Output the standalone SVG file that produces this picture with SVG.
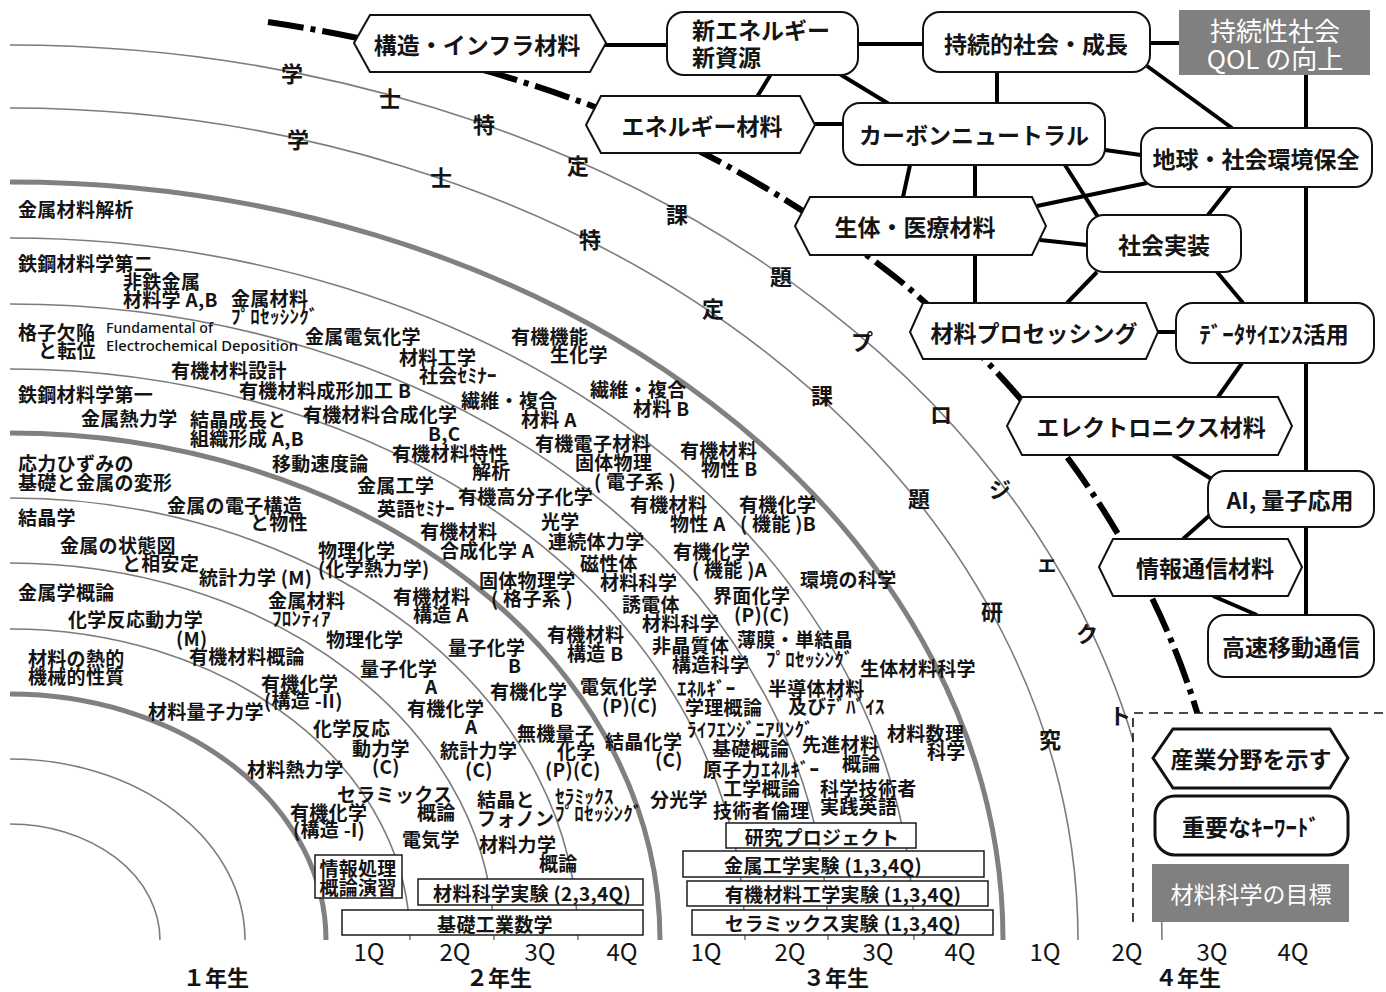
<svg xmlns="http://www.w3.org/2000/svg" width="1386" height="992" viewBox="0 0 1386 992">
<style>
text{font-family:"Noto Sans CJK JP","Noto Sans CJK SC","Noto Sans",sans-serif;font-weight:bold;fill:#141414;dominant-baseline:central}
tspan{dominant-baseline:central}
.c{font-size:19px;letter-spacing:0.3px}
.lat{font-family:"Noto Sans","Liberation Sans",sans-serif;font-size:14.5px;font-weight:500;fill:#111}
.n{font-size:23px;text-anchor:middle}
.nl{font-size:23px}
.w{fill:#fff;font-weight:normal}
.ch{font-size:22px;text-anchor:middle}
.q{font-size:24px;text-anchor:middle;font-weight:normal}
.y{font-size:22px;text-anchor:middle}
.bt{font-size:19px;text-anchor:middle;letter-spacing:0.3px}
.at{fill:none;stroke:#7c7c7c;stroke-width:1.6}
.ak{fill:none;stroke:#808080;stroke-width:5}
.dd{fill:none;stroke:#000;stroke-width:6;stroke-dasharray:36 7 5 7}
.ln{stroke:#000;stroke-width:4;fill:none}
.hx{fill:#fff;stroke:#111;stroke-width:2}
.rr{fill:#fff;stroke:#111;stroke-width:2}
.g{fill:#808080}
.bx{fill:#fff;stroke:#1a1a1a;stroke-width:1.5}
</style>
<rect width="1386" height="992" fill="#fff"/>

<g id="arcs">
<path class="at" d="M10,824 A150,116 0 0 1 160,940"/>
<path class="at" d="M10,759 A235,181 0 0 1 245,940"/>
<path class="ak" d="M10,694 A316,246 0 0 1 326,940"/>
<path class="at" d="M10,629 A400,311 0 0 1 410,940"/>
<path class="at" d="M10,563 A484,377 0 0 1 494,940"/>
<path class="at" d="M10,498 A568,442 0 0 1 578,940"/>
<path class="ak" d="M10,433 A650,507 0 0 1 660,940"/>
<path class="at" d="M10,369 A735,571 0 0 1 745,940"/>
<path class="at" d="M10,304 A818,636 0 0 1 828,940"/>
<path class="at" d="M10,238 A904,702 0 0 1 914,940"/>
<path class="ak" d="M10,182 A993,758 0 0 1 1003,940"/>
<path class="at" d="M10,108 A1068,832 0 0 1 1078,940"/>
<path class="at" d="M10,45 A1152,895 0 0 1 1162,940"/>
</g>

<g id="arc-labels">
<text class="ch" x="292" y="72">学</text>
<text class="ch" x="390" y="97">士</text>
<text class="ch" x="484" y="123">特</text>
<text class="ch" x="578" y="164">定</text>
<text class="ch" x="677" y="213">課</text>
<text class="ch" x="781" y="275">題</text>
<text class="ch" x="862" y="340">プ</text>
<text class="ch" x="941" y="413">ロ</text>
<text class="ch" x="1000" y="488">ジ</text>
<text class="ch" x="1047" y="561">ェ</text>
<text class="ch" x="1087" y="632">ク</text>
<text class="ch" x="1120" y="714">ト</text>
<text class="ch" x="298" y="138">学</text>
<text class="ch" x="441" y="176">士</text>
<text class="ch" x="590" y="238">特</text>
<text class="ch" x="713" y="307">定</text>
<text class="ch" x="822" y="394">課</text>
<text class="ch" x="919" y="497">題</text>
<text class="ch" x="992" y="610">研</text>
<text class="ch" x="1050" y="738">究</text>
</g>

<g id="courses">
<text class="c" x="18" y="208">金属材料解析</text>
<text class="c" x="18" y="262">鉄鋼材料学第二</text>
<text class="c"><tspan x="123" y="280">非鉄金属</tspan><tspan x="123" y="298">材料学 A,B</tspan></text>
<text class="c"><tspan x="231" y="297">金属材料</tspan><tspan x="231" y="315">ﾌﾟﾛｾｯｼﾝｸﾞ</tspan></text>
<text class="c"><tspan x="18" y="331">格子欠陥</tspan><tspan x="38" y="349">と転位</tspan></text>
<text class="lat" x="106" y="327" textLength="107" lengthAdjust="spacingAndGlyphs">Fundamental of</text>
<text class="lat" x="106" y="345" textLength="192" lengthAdjust="spacingAndGlyphs">Electrochemical Deposition</text>
<text class="c" x="305" y="335">金属電気化学</text>
<text class="c"><tspan x="511" y="335">有機機能</tspan><tspan x="550" y="353">生化学</tspan></text>
<text class="c"><tspan x="399" y="356">材料工学</tspan><tspan x="419" y="374">社会ｾﾐﾅｰ</tspan></text>
<text class="c" x="171" y="369">有機材料設計</text>
<text class="c" x="239" y="389">有機材料成形加工 B</text>
<text class="c" x="18" y="393">鉄鋼材料学第一</text>
<text class="c"><tspan x="461" y="399">繊維・複合</tspan><tspan x="521" y="418">材料 A</tspan></text>
<text class="c"><tspan x="590" y="388">繊維・複合</tspan><tspan x="633" y="407">材料 B</tspan></text>
<text class="c" x="81" y="417">金属熱力学</text>
<text class="c"><tspan x="190" y="418">結晶成長と</tspan><tspan x="190" y="437">組織形成 A,B</tspan></text>
<text class="c"><tspan x="303" y="413">有機材料合成化学</tspan><tspan x="428" y="432">B,C</tspan></text>
<text class="c"><tspan x="392" y="452">有機材料特性</tspan><tspan x="472" y="470">解析</tspan></text>
<text class="c"><tspan x="535" y="442">有機電子材料</tspan><tspan x="575" y="461">固体物理</tspan><tspan x="594" y="480">( 電子系 )</tspan></text>
<text class="c"><tspan x="680" y="449">有機材料</tspan><tspan x="701" y="467">物性 B</tspan></text>
<text class="c" x="272" y="462">移動速度論</text>
<text class="c"><tspan x="18" y="462">応力ひずみの</tspan><tspan x="18" y="481">基礎と金属の変形</tspan></text>
<text class="c" x="357" y="484">金属工学</text>
<text class="c" x="458" y="495">有機高分子化学</text>
<text class="c" x="377" y="507">英語ｾﾐﾅｰ</text>
<text class="c"><tspan x="167" y="504">金属の電子構造</tspan><tspan x="250" y="521">と物性</tspan></text>
<text class="c"><tspan x="630" y="503">有機材料</tspan><tspan x="670" y="522">物性 A</tspan></text>
<text class="c"><tspan x="739" y="503">有機化学</tspan><tspan x="740" y="522">( 機能 )B</tspan></text>
<text class="c" x="541" y="520">光学</text>
<text class="c" x="18" y="516">結晶学</text>
<text class="c"><tspan x="420" y="530">有機材料</tspan><tspan x="440" y="549">合成化学 A</tspan></text>
<text class="c" x="548" y="540">連続体力学</text>
<text class="c"><tspan x="673" y="550">有機化学</tspan><tspan x="692" y="568">( 機能 )A</tspan></text>
<text class="c"><tspan x="60" y="544">金属の状態図</tspan><tspan x="122" y="562">と相安定</tspan></text>
<text class="c"><tspan x="318" y="549">物理化学</tspan><tspan x="318" y="567">(化学熱力学)</tspan></text>
<text class="c"><tspan x="580" y="562">磁性体</tspan><tspan x="600" y="581">材料科学</tspan></text>
<text class="c" x="199" y="576">統計力学 (M)</text>
<text class="c" x="800" y="578">環境の科学</text>
<text class="c"><tspan x="479" y="579">固体物理学</tspan><tspan x="491" y="597">( 格子系 )</tspan></text>
<text class="c" x="18" y="591">金属学概論</text>
<text class="c"><tspan x="268" y="599">金属材料</tspan><tspan x="272" y="617">ﾌﾛﾝﾃｨｱ</tspan></text>
<text class="c"><tspan x="393" y="595">有機材料</tspan><tspan x="413" y="613">構造 A</tspan></text>
<text class="c"><tspan x="713" y="594">界面化学</tspan><tspan x="734" y="613">(P)(C)</tspan></text>
<text class="c"><tspan x="622" y="603">誘電体</tspan><tspan x="642" y="622">材料科学</tspan></text>
<text class="c"><tspan x="68" y="618">化学反応動力学</tspan><tspan x="176" y="637">(M)</tspan></text>
<text class="c" x="326" y="638">物理化学</text>
<text class="c"><tspan x="448" y="646">量子化学</tspan><tspan x="508" y="664">B</tspan></text>
<text class="c"><tspan x="547" y="633">有機材料</tspan><tspan x="567" y="652">構造 B</tspan></text>
<text class="c"><tspan x="652" y="644">非晶質体</tspan><tspan x="672" y="663">構造科学</tspan></text>
<text class="c"><tspan x="737" y="638">薄膜・単結晶</tspan><tspan x="766" y="658">ﾌﾟﾛｾｯｼﾝｸﾞ</tspan></text>
<text class="c" x="860" y="667">生体材料科学</text>
<text class="c"><tspan x="28" y="657">材料の熱的</tspan><tspan x="28" y="675">機械的性質</tspan></text>
<text class="c" x="189" y="655">有機材料概論</text>
<text class="c"><tspan x="360" y="667">量子化学</tspan><tspan x="425" y="685">A</tspan></text>
<text class="c"><tspan x="261" y="682">有機化学</tspan><tspan x="264" y="699">(構造 -II)</tspan></text>
<text class="c"><tspan x="490" y="690">有機化学</tspan><tspan x="550" y="708">B</tspan></text>
<text class="c"><tspan x="580" y="685">電気化学</tspan><tspan x="602" y="704">(P)(C)</tspan></text>
<text class="c"><tspan x="677" y="687">ｴﾈﾙｷﾞｰ</tspan><tspan x="685" y="706">学理概論</tspan></text>
<text class="c"><tspan x="768" y="687">半導体材料</tspan><tspan x="788" y="705">及びﾃﾞﾊﾞｲｽ</tspan></text>
<text class="c" x="148" y="710">材料量子力学</text>
<text class="c"><tspan x="407" y="707">有機化学</tspan><tspan x="465" y="725">A</tspan></text>
<text class="c"><tspan x="313" y="727">化学反応</tspan><tspan x="352" y="747">動力学</tspan><tspan x="372" y="765">(C)</tspan></text>
<text class="c"><tspan x="517" y="732">無機量子</tspan><tspan x="557" y="750">化学</tspan><tspan x="545" y="768">(P)(C)</tspan></text>
<text class="c"><tspan x="687" y="728">ﾗｲﾌｴﾝｼﾞﾆｱﾘﾝｸﾞ</tspan><tspan x="712" y="747">基礎概論</tspan></text>
<text class="c"><tspan x="802" y="743">先進材料</tspan><tspan x="842" y="762">概論</tspan></text>
<text class="c"><tspan x="887" y="732">材料数理</tspan><tspan x="927" y="750">科学</tspan></text>
<text class="c"><tspan x="605" y="740">結晶化学</tspan><tspan x="655" y="758">(C)</tspan></text>
<text class="c"><tspan x="440" y="749">統計力学</tspan><tspan x="465" y="768">(C)</tspan></text>
<text class="c" x="247" y="768">材料熱力学</text>
<text class="c"><tspan x="703" y="768">原子力ｴﾈﾙｷﾞｰ</tspan><tspan x="723" y="787">工学概論</tspan></text>
<text class="c"><tspan x="820" y="787">科学技術者</tspan><tspan x="820" y="805">実践英語</tspan></text>
<text class="c"><tspan x="337" y="793">セラミックス</tspan><tspan x="417" y="811">概論</tspan></text>
<text class="c"><tspan x="290" y="811">有機化学</tspan><tspan x="293" y="828">(構造 -I)</tspan></text>
<text class="c"><tspan x="477" y="798">結晶と</tspan><tspan x="477" y="817">フォノン</tspan></text>
<text class="c"><tspan x="555" y="795">ｾﾗﾐｯｸｽ</tspan><tspan x="555" y="812">ﾌﾟﾛｾｯｼﾝｸﾞ</tspan></text>
<text class="c" x="650" y="798">分光学</text>
<text class="c" x="713" y="809">技術者倫理</text>
<text class="c" x="402" y="838">電気学</text>
<text class="c"><tspan x="479" y="843">材料力学</tspan><tspan x="539" y="862">概論</tspan></text>
</g>

<g id="course-boxes">
<rect class="bx" x="315" y="855" width="87" height="43"/>
<text class="bt"><tspan x="358" y="867">情報処理</tspan><tspan x="358" y="886">概論演習</tspan></text>
<rect class="bx" x="418" y="879" width="225" height="26"/>
<text class="bt" x="532" y="892">材料科学実験 (2,3,4Q)</text>
<rect class="bx" x="342" y="910" width="301" height="25"/>
<text class="bt" x="495" y="923">基礎工業数学</text>
<rect class="bx" x="726" y="823" width="190" height="25"/>
<text class="bt" x="822" y="836">研究プロジェクト</text>
<rect class="bx" x="683" y="851" width="301" height="26"/>
<text class="bt" x="823" y="864">金属工学実験 (1,3,4Q)</text>
<rect class="bx" x="687" y="881" width="301" height="25"/>
<text class="bt" x="843" y="893">有機材料工学実験 (1,3,4Q)</text>
<rect class="bx" x="692" y="910" width="301" height="25"/>
<text class="bt" x="843" y="922">セラミックス実験 (1,3,4Q)</text>
</g>

<g id="axis">
<text class="q" x="369" y="950">1Q</text>
<text class="q" x="455" y="950">2Q</text>
<text class="q" x="540" y="950">3Q</text>
<text class="q" x="622" y="950">4Q</text>
<text class="q" x="706" y="950">1Q</text>
<text class="q" x="790" y="950">2Q</text>
<text class="q" x="878" y="950">3Q</text>
<text class="q" x="960" y="950">4Q</text>
<text class="q" x="1045" y="950">1Q</text>
<text class="q" x="1127" y="950">2Q</text>
<text class="q" x="1212" y="950">3Q</text>
<text class="q" x="1293" y="950">4Q</text>
<text class="y" x="216" y="976">１年生</text>
<text class="y" x="499" y="976">２年生</text>
<text class="y" x="836" y="976">３年生</text>
<text class="y" x="1188" y="976">４年生</text>
</g>

<g id="connectors">
<path class="dd" d="M268,22 A1230,945 0 0 1 490,72 A1230,945 0 0 1 703,153 A1230,945 0 0 1 899,280 A1230,945 0 0 1 1067,457 A1230,945 0 0 1 1152,598 A1230,945 0 0 1 1205,740"/>
<path class="ln" d="M604,45 H667"/>
<path class="ln" d="M858,44 H923"/>
<path class="ln" d="M1150,43 H1179"/>
<path class="ln" d="M771,74 L757,97"/>
<path class="ln" d="M838,73 L889,104"/>
<path class="ln" d="M815,124 H843"/>
<path class="ln" d="M997,72 V103"/>
<path class="ln" d="M1147,66 L1232,128"/>
<path class="ln" d="M1306,75 V615"/>
<path class="ln" d="M1105,150 L1141,155"/>
<path class="ln" d="M910,165 L903,197"/>
<path class="ln" d="M975,165 V303"/>
<path class="ln" d="M1065,165 L1098,217"/>
<path class="ln" d="M1147,183 L1037,206"/>
<path class="ln" d="M1230,187 L1208,215"/>
<path class="ln" d="M1040,240 L1087,245"/>
<path class="ln" d="M1097,272 L1067,303"/>
<path class="ln" d="M1217,272 L1243,303"/>
<path class="ln" d="M1158,332 H1176"/>
<path class="ln" d="M1242,363 L1218,397"/>
<path class="ln" d="M1173,455 L1213,480"/>
<path class="ln" d="M1210,515 L1183,539"/>
<path class="ln" d="M1213,596 L1257,615"/>
</g>

<g id="n-kozo"><polygon class="hx" points="354,43 370,15 590,15 606,43 590,72 370,72"/><text class="n" x="477" y="44">構造・インフラ材料</text></g>
<g id="n-shin"><rect class="rr" x="667" y="12" width="191" height="63" rx="17"/><text class="nl"><tspan x="692" y="29">新エネルギー</tspan><tspan x="692" y="56">新資源</tspan></text></g>
<g id="n-jizoku"><rect class="rr" x="923" y="12" width="227" height="60" rx="17"/><text class="n" x="1036" y="43">持続的社会・成長</text></g>
<g id="n-goal"><rect class="g" x="1179" y="10" width="191" height="65"/><text class="n w" style="font-size:26px"><tspan x="1275" y="29">持続性社会</tspan><tspan x="1275" y="57">QOL の向上</tspan></text></g>
<g id="n-energy"><polygon class="hx" points="586,125 601,96 800,96 815,125 800,153 601,153"/><text class="n" x="702" y="125">エネルギー材料</text></g>
<g id="n-carbon"><rect class="rr" x="843" y="103" width="262" height="62" rx="17"/><text class="n" x="974" y="134">カーボンニュートラル</text></g>
<g id="n-chikyu"><rect class="rr" x="1141" y="128" width="231" height="59" rx="17"/><text class="n" x="1256" y="158">地球・社会環境保全</text></g>
<g id="n-seitai"><polygon class="hx" points="795,226 810,197 1032,197 1046,226 1032,255 810,255"/><text class="n" x="915" y="226">生体・医療材料</text></g>
<g id="n-shakai"><rect class="rr" x="1087" y="215" width="154" height="57" rx="17"/><text class="n" x="1164" y="244">社会実装</text></g>
<g id="n-process"><polygon class="hx" points="910,332 923,303 1146,303 1158,332 1146,359 923,359"/><text class="n" x="1034" y="332">材料プロセッシング</text></g>
<g id="n-data"><rect class="rr" x="1176" y="303" width="198" height="60" rx="17"/><text class="n" x="1274" y="333">ﾃﾞｰﾀｻｲｴﾝｽ活用</text></g>
<g id="n-elec"><polygon class="hx" points="1007,426 1022,397 1278,397 1292,426 1278,455 1022,455"/><text class="n" x="1151" y="426">エレクトロニクス材料</text></g>
<g id="n-ai"><rect class="rr" x="1208" y="471" width="166" height="56" rx="17"/><text class="n" x="1290" y="499">AI, 量子応用</text></g>
<g id="n-info"><polygon class="hx" points="1099,567 1113,539 1288,539 1302,567 1288,596 1113,596"/><text class="n" x="1205" y="567">情報通信材料</text></g>
<g id="n-kosoku"><rect class="rr" x="1208" y="615" width="166" height="62" rx="17"/><text class="n" x="1291" y="646">高速移動通信</text></g>

<g id="legend">
<rect x="1133" y="713" width="253" height="209" fill="#fff"/>
<path d="M1133,922 V713 H1386" fill="none" stroke="#111" stroke-width="1.6" stroke-dasharray="9 6"/>
<polygon class="hx" style="stroke-width:3" points="1153,758 1173,729 1330,729 1348,758 1330,788 1173,788"/>
<text class="n" x="1251" y="758">産業分野を示す</text>
<rect class="rr" style="stroke-width:3" x="1155" y="796" width="193" height="59" rx="20"/>
<text class="n" x="1251" y="826">重要なｷｰﾜｰﾄﾞ</text>
<rect class="g" x="1152" y="864" width="197" height="58"/>
<text class="n w" x="1251" y="893">材料科学の目標</text>
</g>
</svg>
